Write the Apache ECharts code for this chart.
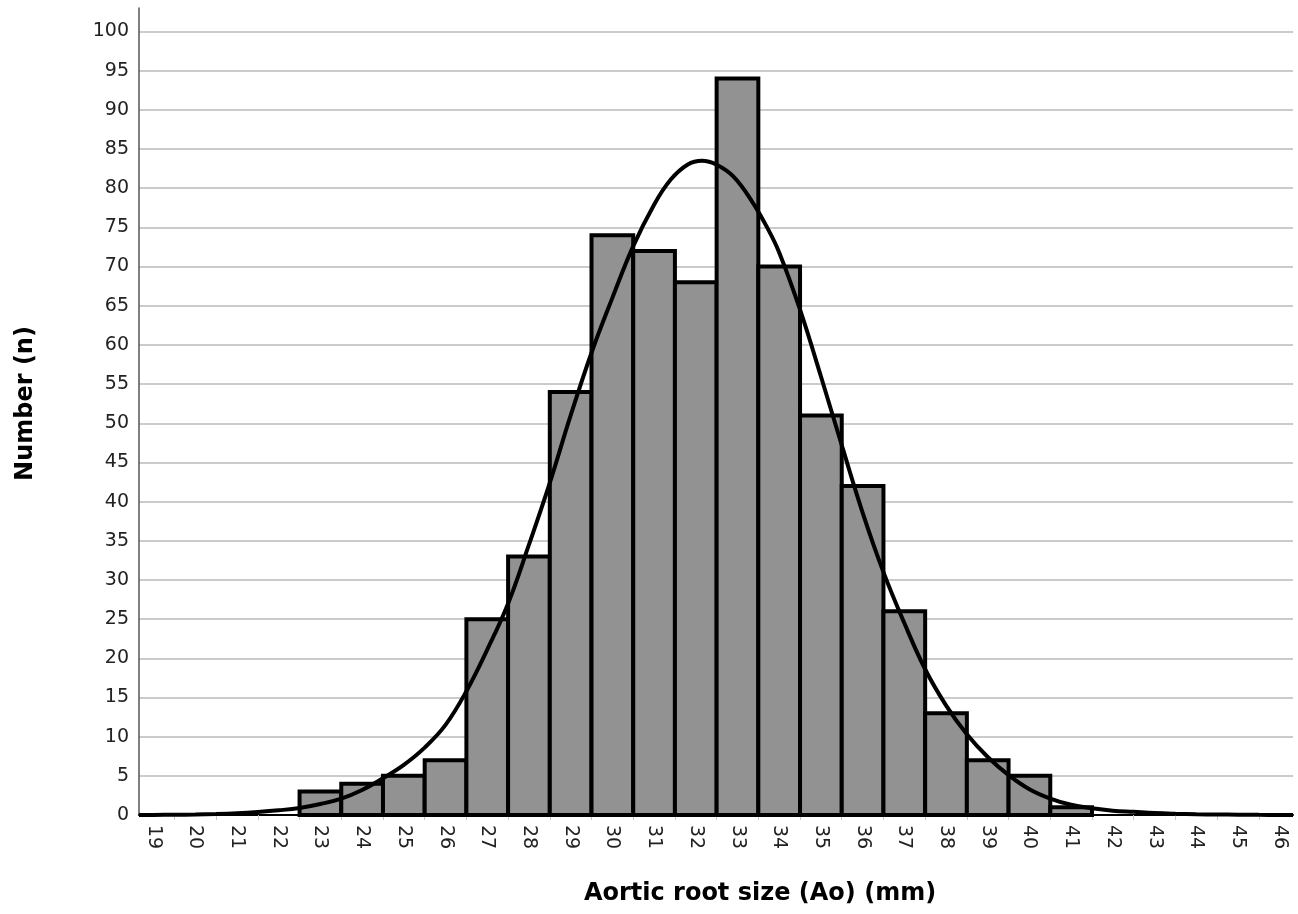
<!DOCTYPE html>
<html>
<head>
<meta charset="utf-8">
<title>Aortic root size histogram</title>
<script src="https://cdn.jsdelivr.net/npm/echarts@6/dist/echarts.min.js"></script>
<style>
  html, body {margin: 0; padding: 0; background: #fff;}
  #chart {width: 1298px; height: 914px;}
</style>
</head>
<body>
<div id="chart"></div>
<script>
// histogram bins (mm) and counts
const binCenters = [23, 24, 25, 26, 27, 28, 29, 30, 31, 32, 33, 34, 35, 36, 37, 38, 39, 40, 41]
const binCounts = [3, 4, 5, 7, 25, 33, 54, 74, 72, 68, 94, 70, 51, 42, 26, 13, 7, 5, 1]

// fitted curve (denser around the peak)
const curveX = [18.65, 19, 19.5, 20, 20.5, 21, 21.5, 22, 22.5, 23, 23.5, 24, 24.5, 25, 25.5, 26, 26.5, 27, 27.5, 28, 28.5, 29, 29.5, 30, 30.5, 31, 31.4, 31.8, 32.15, 32.5, 32.9, 33.35, 33.7, 34, 34.5, 35, 35.5, 36, 36.5, 37, 37.5, 38, 38.5, 39, 39.5, 40, 40.5, 41, 41.5, 42, 42.5, 43, 43.5, 44, 44.5, 45, 45.5, 46, 46.32]
const curveY = [0.01, 0.01, 0.03, 0.06, 0.12, 0.22, 0.38, 0.6, 0.9, 1.4, 2.1, 3.2, 4.7, 6.4, 8.6, 11.5, 15.8, 21.1, 27.0, 34.5, 42.4, 51, 59, 66, 72.6, 77.9, 81.1, 83.0, 83.5, 83.0, 81.5, 78.3, 75.1, 71.8, 64.5, 56.0, 47.2, 38.6, 31, 24.5, 18.6, 14, 10.3, 7.4, 5.1, 3.3, 2.1, 1.3, 0.85, 0.55, 0.4, 0.25, 0.16, 0.1, 0.06, 0.04, 0.02, 0.01, 0.01]

// tick labels
const xLabels = [19, 20, 21, 22, 23, 24, 25, 26, 27, 28, 29, 30, 31, 32, 33, 34, 35, 36, 37, 38, 39, 40, 41, 42, 43, 44, 45, 46]
const xTicks = [19.5, 20.5, 21.5, 22.5, 23.5, 24.5, 25.5, 26.5, 27.5, 28.5, 29.5, 30.5, 31.5, 32.5, 33.5, 34.5, 35.5, 36.5, 37.5, 38.5, 39.5, 40.5, 41.5, 42.5, 43.5, 44.5, 45.5]
const yLabels = [0, 5, 10, 15, 20, 25, 30, 35, 40, 45, 50, 55, 60, 65, 70, 75, 80, 85, 90, 95, 100]

const chart = echarts.init(document.getElementById('chart'))

chart.setOption({
  animation: false,
  backgroundColor: '#fff',
  grid: {left: 139, right: 5, top: 8, bottom: 99, containLabel: false, outerBoundsMode: 'none'},
  xAxis: {
    type: 'value',
    min: 18.65,
    max: 46.32,
    name: 'Aortic root size (Ao) (mm)',
    nameLocation: 'middle',
    nameGap: 67,
    nameTextStyle: {fontFamily: 'DejaVu Sans', fontWeight: 'bold', fontSize: 24, color: '#000', padding: [0, 0, 0, 88]},
    axisLine: {lineStyle: {color: '#000', width: 2}},
    axisTick: {show: true, customValues: xTicks, length: 5, lineStyle: {color: '#c8c8c8', width: 1}},
    axisLabel: {customValues: xLabels, rotate: -90, margin: 10, fontFamily: 'DejaVu Sans', fontSize: 19, color: '#222'},
    splitLine: {show: false}
  },
  yAxis: {
    type: 'value',
    min: 0,
    max: 103,
    interval: 5,
    name: 'Number (n)',
    nameLocation: 'middle',
    nameGap: 101,
    nameTextStyle: {fontFamily: 'DejaVu Sans', fontWeight: 'bold', fontSize: 24, color: '#000', padding: [0, 0, 0, 16]},
    axisLine: {show: true, lineStyle: {color: '#555', width: 1.5}},
    axisTick: {show: false},
    axisLabel: {customValues: yLabels, margin: 10, fontFamily: 'DejaVu Sans', fontSize: 19, color: '#222'},
    splitLine: {show: true, showMaxLine: false, lineStyle: {color: '#cbcbcb', width: 2}}
  },
  series: [{
    name: 'Number',
    type: 'custom',
    data: binCenters.map((c, i) => [c, binCounts[i]]),
    renderItem: (params, api) => {
      const x = api.value(0)
      const topLeft = api.coord([x - 0.5, api.value(1)])
      const bottomRight = api.coord([x + 0.5, 0])
      return {
        type: 'rect',
        shape: {x: topLeft[0], y: topLeft[1], width: bottomRight[0] - topLeft[0], height: bottomRight[1] - topLeft[1]},
        style: {fill: '#929292', stroke: '#000', lineWidth: 4}
      }
    },
    z: 2
  }, {
    name: 'Normal',
    type: 'line',
    data: curveX.map((x, i) => [x, curveY[i]]),
    smooth: 0.4,
    symbol: 'none',
    lineStyle: {color: '#000', width: 4},
    z: 3
  }]
})
</script>
</body>
</html>
